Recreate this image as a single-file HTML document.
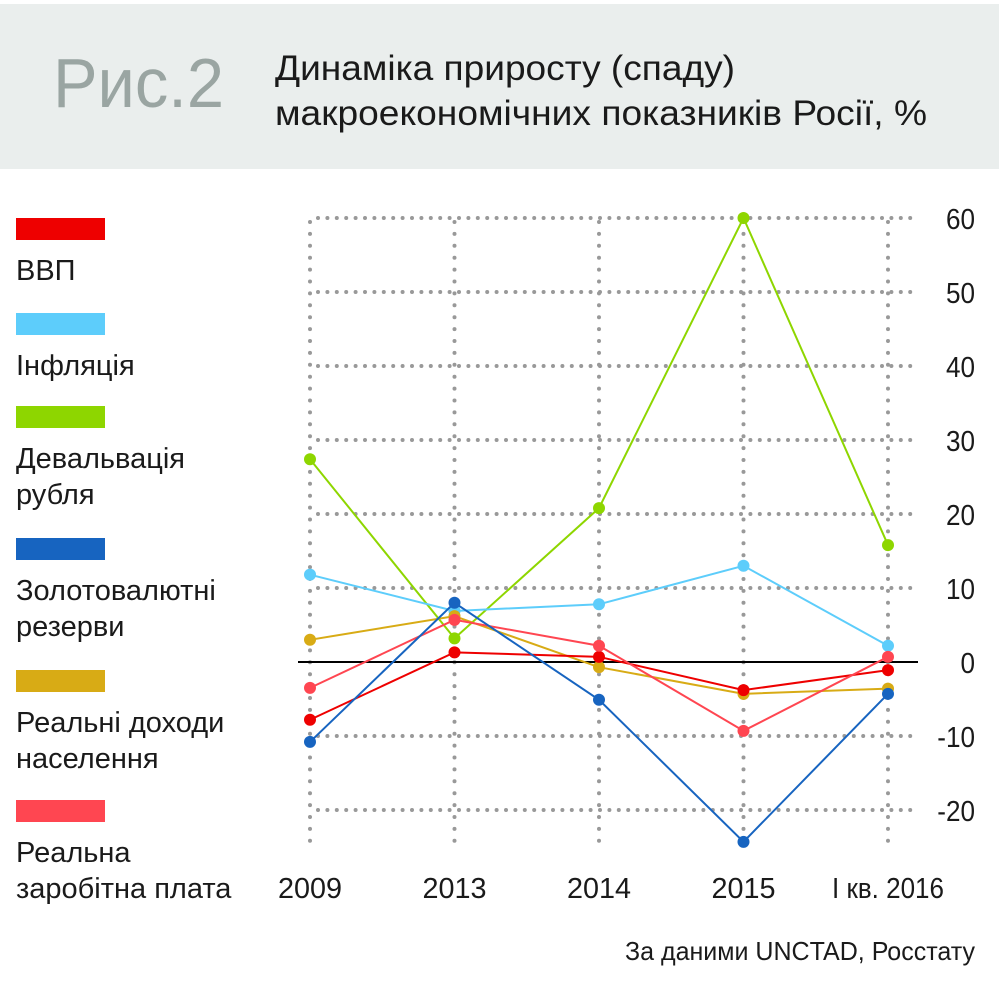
<!DOCTYPE html>
<html><head><meta charset="utf-8"><style>
html,body{margin:0;padding:0;background:#fff;}
svg{display:block;font-family:"Liberation Sans",sans-serif;}
</style></head><body>
<svg id="chart" width="999" height="999" viewBox="0 0 999 999" xmlns="http://www.w3.org/2000/svg">
<rect x="0" y="4" width="999" height="165" fill="#eaeeed"/>
<text x="53" y="107" font-size="70" fill="#9aa5a2" textLength="171" lengthAdjust="spacingAndGlyphs">Рис.2</text>
<text x="275" y="80" font-size="35" fill="#1a1a1a" textLength="460" lengthAdjust="spacingAndGlyphs">Динаміка приросту (спаду)</text>
<text x="275" y="125" font-size="35" fill="#1a1a1a" textLength="652" lengthAdjust="spacingAndGlyphs">макроекономічних показників Росії, %</text>
<g id="grid"></g>
<g id="legend"></g>
<g id="series"></g>
<text x="975" y="960" font-size="26" fill="#1a1a1a" text-anchor="end" textLength="350" lengthAdjust="spacingAndGlyphs">За даними UNCTAD, Росстату</text>
</svg>
<script>
const categories = ["2009","2013","2014","2015","I кв. 2016"];
const yTicks = [60,50,40,30,20,10,0,-10,-20];
const gdp = [-7.8,1.3,0.7,-3.8,-1.1];
const inflation = [11.8,6.9,7.8,13.0,2.2];
const devaluation = [27.4,3.2,20.8,60.0,15.8];
const reserves = [-10.8,8.0,-5.1,-24.3,-4.3];
const incomes = [3.0,6.2,-0.7,-4.3,-3.6];
const wages = [-3.5,5.7,2.2,-9.3,0.7];
const seriesNames = ["gdp","inflation","devaluation","reserves","incomes","wages"];
const seriesColors = ["#ee0000","#5dcdfb","#8ed600","#1764c0","#d8ab15","#ff4651"];
const legendLabels = [["ВВП"],["Інфляція"],["Девальвація","рубля"],["Золотовалютні","резерви"],["Реальні доходи","населення"],["Реальна","заробітна плата"]];

const NS="http://www.w3.org/2000/svg";
function xPos(i){return 310+i*144.5;}
function yPos(v){return 662-v*7.4;}
function mk(tag,attrs,parent){const e=document.createElementNS(NS,tag);for(const k in attrs)e.setAttribute(k,attrs[k]);parent.appendChild(e);return e;}

const grid=document.getElementById('grid');
yTicks.forEach(t=>{
  const y=yPos(t);
  if(t!==0){
    const l=mk('line',{x1:318,y1:y,x2:918,y2:y,stroke:'#999','stroke-width':4,'stroke-linecap':'round','stroke-dasharray':'0 9.4'},grid);
    
    
  }
  const tx=mk('text',{x:975,y:y+11,'font-size':29,'text-anchor':'end',fill:'#1a1a1a',transform:'translate(975 0) scale(0.9 1) translate(-975 0)'},grid);
  tx.textContent=String(t);
  
  
});
categories.forEach((c,i)=>{
  const x=xPos(i);
  const l=mk('line',{x1:x,y1:222,x2:x,y2:850,stroke:'#999','stroke-width':4,'stroke-linecap':'round','stroke-dasharray':'0 11.9'},grid);
  
  
  const tx=mk('text',{x:x,y:898,'font-size':29,'text-anchor':'middle',fill:'#1a1a1a'},grid);
  tx.setAttribute('textLength',i===4?112:64);
  tx.setAttribute('lengthAdjust','spacingAndGlyphs');
  tx.textContent=c;
  
  
});
const zl=mk('line',{x1:298,y1:yPos(0),x2:918,y2:yPos(0),stroke:'#000','stroke-width':2},grid);



const legend=document.getElementById('legend');
const swY=[218,313,406,538,670,800];
legendLabels.forEach((lines,i)=>{
  const g=mk('g',{},legend);
  
  
  const r=mk('rect',{x:16,y:swY[i],width:89,height:22,fill:seriesColors[i]},g);
  
  
  lines.forEach((s,j)=>{
    const t=mk('text',{x:16,y:swY[i]+62+j*36,'font-size':29,fill:'#1a1a1a'},g);
    t.textContent=s;
    
    
  });
});

const data=[gdp,inflation,devaluation,reserves,incomes,wages];
const order=[2,1,4,0,5,3];
const sg=document.getElementById('series');
order.forEach(k=>{
  const vals=data[k];
  const g=mk('g',{},sg);
  
  
  const pts=vals.map((v,i)=>xPos(i)+','+yPos(v)).join(' ');
  const pl=mk('polyline',{points:pts,fill:'none',stroke:seriesColors[k],'stroke-width':2},g);
  
  
  vals.forEach((v,i)=>{
    const c=mk('circle',{cx:xPos(i),cy:yPos(v),r:6,fill:seriesColors[k]},g);
    
    
  });
});
</script>
</body></html>
